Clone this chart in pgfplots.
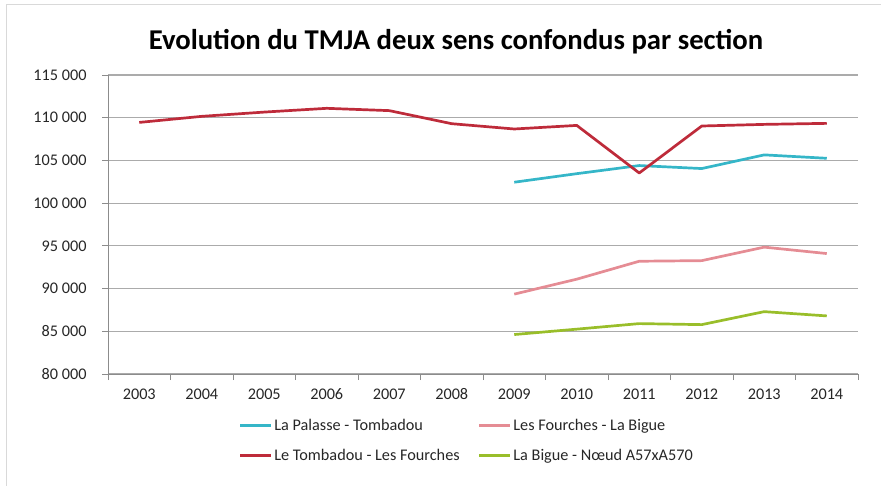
\documentclass[border=0pt]{standalone}
\usepackage{fontspec}
\setmainfont{Carlito}
\usepackage{pgfplots}
\pgfplotsset{compat=1.18}
\definecolor{cPal}{HTML}{35B6C8}
\definecolor{cTom}{HTML}{BE2B3A}
\definecolor{cFou}{HTML}{E58C94}
\definecolor{cBig}{HTML}{99BE2A}
\definecolor{gridc}{HTML}{ABABAB}
\definecolor{axc}{HTML}{8C8C8C}
\begin{document}
\begin{tikzpicture}
\useasboundingbox (0,0) rectangle (881bp,-486bp);
\draw[gray!30, line width=0.8bp] (6bp,-486bp) -- (6bp,-4bp) -- (881bp,-4bp);
\node[font=\fontsize{28.8}{33}\selectfont\bfseries] at (456bp,-42bp) {Evolution du TMJA deux sens confondus par section};
\begin{axis}[
  at={(108bp,-374bp)}, anchor=south west,
  width=750bp, height=299bp, scale only axis,
  xmin=2002.5, xmax=2014.5, ymin=80000, ymax=115000,
  axis lines*=left,
  axis line style={axc, line width=1bp},
  xtick={2003,2004,2005,2006,2007,2008,2009,2010,2011,2012,2013,2014},
  xticklabels={2003,2004,2005,2006,2007,2008,2009,2010,2011,2012,2013,2014},
  minor xtick={2002.5,2003.5,2004.5,2005.5,2006.5,2007.5,2008.5,2009.5,2010.5,2011.5,2012.5,2013.5,2014.5},
  ytick={80000,85000,90000,95000,100000,105000,110000,115000},
  yticklabels={80 000,85 000,90 000,95 000,100 000,105 000,110 000,115 000},
  scaled y ticks=false,
  tick align=outside,
  major tick length=6bp,
  minor tick length=6bp,
  xtick style={draw=none},
  minor x tick style={draw=axc, line width=1bp},
  ytick style={draw=axc, line width=1bp},
  ymajorgrids,
  major grid style={gridc, line width=1.1bp},
  tick label style={font=\fontsize{16.3}{19}\selectfont, text=black!85},
  yticklabel style={xshift=-12bp},
  xticklabel style={yshift=-5bp},
  legend columns=2,
  legend style={at={(0.170,-0.137)}, anchor=north west, draw=none, fill=none,
    font=\fontsize{16.3}{19}\selectfont, text=black!85,
    /tikz/every even column/.append style={column sep=16bp},
    row sep=13bp},
  legend cell align=left,
  legend image code/.code={\draw[#1] (0bp,0bp) -- (31bp,0bp);},
  every axis plot/.append style={line width=2.7bp, line join=round},
]
\addplot[cPal] coordinates {(2009,102450) (2010,103450) (2011,104400) (2012,104050) (2013,105650) (2014,105250)};
\addlegendentry{La Palasse - Tombadou}
\addplot[cFou] coordinates {(2009,89350) (2010,91100) (2011,93200) (2012,93270) (2013,94850) (2014,94100)};
\addlegendentry{Les Fourches - La Bigue}
\addplot[cTom] coordinates {(2003,109450) (2004,110160) (2005,110660) (2006,111100) (2007,110830) (2008,109300) (2009,108680) (2010,109100) (2011,103530) (2012,109030) (2013,109220) (2014,109340)};
\addlegendentry{Le Tombadou - Les Fourches}
\addplot[cBig] coordinates {(2009,84620) (2010,85250) (2011,85900) (2012,85780) (2013,87300) (2014,86800)};
\addlegendentry{La Bigue - Nœud A57xA570}
\end{axis}
\end{tikzpicture}
\end{document}
